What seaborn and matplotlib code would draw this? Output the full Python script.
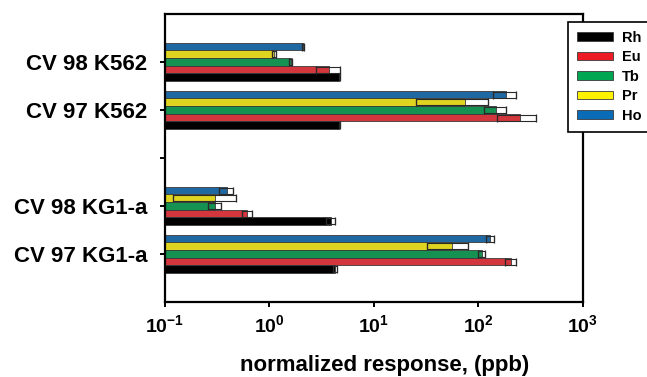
import pandas as pd
import numpy as np
import matplotlib
matplotlib.use("Agg")
import matplotlib.pyplot as plt
import matplotlib.patches as mpatches
import seaborn as sns

# data (normalized response, ppb)
samples = ['CV 98 K562', 'CV 97 K562', 'CV 98 KG1-a', 'CV 97 KG1-a']
order = ['CV 98 K562', 'CV 97 K562', ' ', 'CV 98 KG1-a', 'CV 97 KG1-a']
elements = ['Rh', 'Eu', 'Tb', 'Pr', 'Ho']

rh = [4.65, 4.65, 3.85, 4.25]
eu = [3.75, 252, 0.61, 203]
tb = [1.6, 148, 0.30, 107]
pr = [1.11, 74, 0.30, 56]
ho = [2.1, 182, 0.39, 130]

rh_err = [0.05, 0.05, 0.4, 0.2]
eu_err = [0.95, 103, 0.07, 25]
tb_err = [0.05, 36, 0.04, 8]
pr_err = [0.05, 49, 0.18, 24]
ho_err = [0.05, 45, 0.06, 12]

colors = {'Rh': '#000000', 'Eu': '#ed1c24', 'Tb': '#00a651',
          'Pr': '#fff200', 'Ho': '#0a6bb7'}

vals = {'Rh': rh, 'Eu': eu, 'Tb': tb, 'Pr': pr, 'Ho': ho}
errs = {'Rh': rh_err, 'Eu': eu_err, 'Tb': tb_err, 'Pr': pr_err, 'Ho': ho_err}

rows = []
for el in elements:
    for s, v, e in zip(samples, vals[el], errs[el]):
        rows.append({'sample': s, 'element': el, 'value': v, 'err': e})
df = pd.DataFrame(rows)

sns.set_style("ticks")
plt.rcParams['font.family'] = ['Liberation Sans', 'DejaVu Sans']
plt.rcParams['font.weight'] = 'bold'
plt.rcParams['text.color'] = 'black'
plt.rcParams['xtick.color'] = 'black'
plt.rcParams['ytick.color'] = 'black'
plt.rcParams['axes.labelcolor'] = 'black'
plt.rcParams['mathtext.fontset'] = 'custom'
plt.rcParams['mathtext.rm'] = 'Liberation Sans:bold'
plt.rcParams['mathtext.it'] = 'Liberation Sans:bold'
plt.rcParams['mathtext.bf'] = 'Liberation Sans:bold'

fig = plt.figure(figsize=(6.47, 3.77), dpi=100)
ax = fig.add_axes([0.255, 0.199, 0.646, 0.764])
ax.set_xscale('log')

# top of each group is Ho, bottom is Rh
hue_order = elements[::-1]
sns.barplot(data=df, y='sample', x='value', hue='element', order=order,
            hue_order=hue_order, palette=colors, orient='h', width=0.8,
            errorbar=None, legend=False, edgecolor='#3a3a3a', linewidth=0.6,
            ax=ax)

# error bars drawn as outlined boxes spanning value +/- err, with caps
for cont, el in zip(list(ax.containers), hue_order):
    for bar in cont:
        h = bar.get_height()
        yc = bar.get_y() + h / 2
        s = order[int(round(yc))]
        if s not in samples:
            continue
        v = bar.get_width()
        e = errs[el][samples.index(s)]
        ax.barh(yc, 2 * e, left=v - e, height=h * 0.8, fill=False,
                edgecolor='#2a2a2a', linewidth=0.8)
        ax.errorbar(v, yc, xerr=e, fmt='none', ecolor='#2a2a2a',
                    elinewidth=0, capsize=3, capthick=0.9)

ax.set_xlim(0.1, 1000)
ax.set_ylim(5, -1)
ax.set_xticks([0.1, 1, 10, 100, 1000])
ax.set_xticklabels([r'$10^{-1}$', r'$10^{0}$', r'$10^{1}$', r'$10^{2}$', r'$10^{3}$'],
                   fontsize=14)
ax.xaxis.set_minor_locator(matplotlib.ticker.NullLocator())
ax.set_yticks(range(len(order)))
ax.set_yticklabels(order, fontsize=16, fontweight='bold')
ax.set_ylabel('')
ax.set_xlabel('normalized response, (ppb)', fontsize=16, fontweight='bold',
              labelpad=14, x=0.525)
for sp in ax.spines.values():
    sp.set_visible(True)
    sp.set_linewidth(1.6)
    sp.set_color('black')
ax.tick_params(axis='both', direction='out', length=3.5, width=1.4, color='black')
ax.tick_params(axis='y', pad=9)
ax.tick_params(axis='x', pad=5)

handles = [mpatches.Patch(facecolor=colors[el], edgecolor='#3a3a3a', linewidth=0.6,
                          label=el) for el in elements]
leg = fig.legend(handles=handles, loc='upper left', bbox_to_anchor=(0.878, 0.942),
                 frameon=True, fancybox=False, edgecolor='black', framealpha=1,
                 prop={'weight': 'bold', 'size': 10.5}, handlelength=2.45,
                 handleheight=0.55, handletextpad=0.65, labelspacing=0.38,
                 borderpad=0.6, borderaxespad=0)
leg.get_frame().set_linewidth(1.2)

fig.savefig('out.png', dpi=100)
